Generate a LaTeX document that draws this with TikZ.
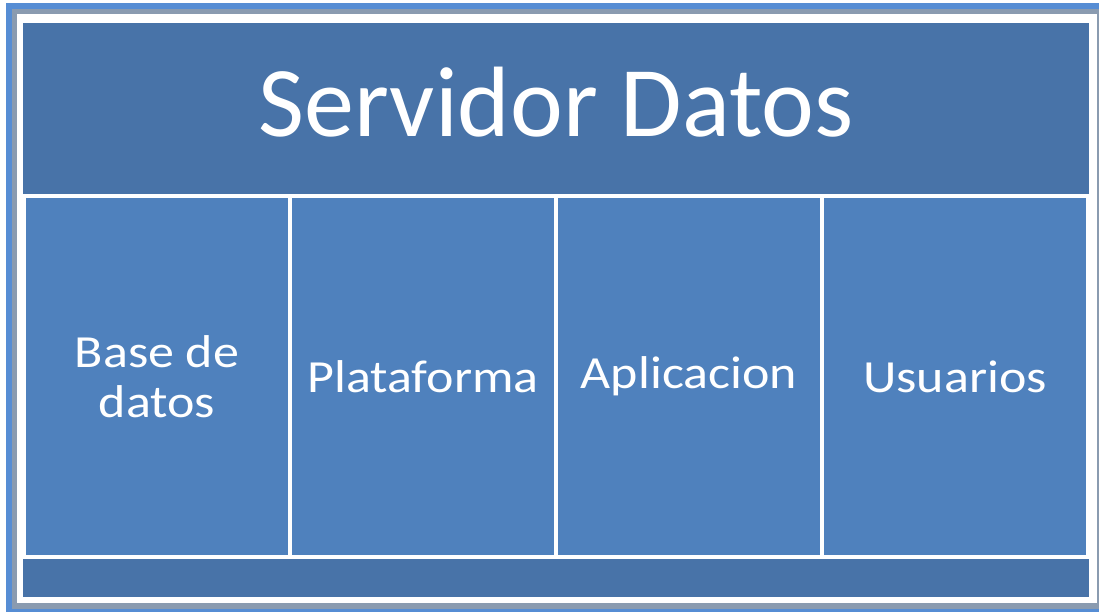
\documentclass[tikz,border=0pt]{standalone}
\usepackage{fontspec}
\setmainfont{Carlito}
\newfontfamily\cellfont[FakeStretch=1.13]{Carlito}
\usepackage{tikz}
\usetikzlibrary{positioning}

\definecolor{frameblue}{RGB}{86,141,212}
\definecolor{framegrey}{RGB}{138,155,176}
\definecolor{headblue}{RGB}{72,115,168}
\definecolor{cellblue}{RGB}{79,129,189}

\begin{document}
\begin{tikzpicture}[x=1pt,y=-1pt,node distance=0pt,
 bar node/.style={rectangle,fill=headblue,inner sep=0pt,outer sep=0pt,
   minimum width=1066pt,anchor=north west,text=white},
 cell node/.style={rectangle,draw=white,line width=4pt,fill=cellblue,
   inner sep=0pt,outer sep=0pt,minimum width=266pt,minimum height=361pt,
   text=white,align=center,font=\cellfont\fontsize{46}{50}\selectfont}]
  \useasboundingbox (0,0) rectangle (1099,612);
  % frame
  \fill[frameblue] (6,3) rectangle (1120,630);
  \fill[framegrey] (12,9) rectangle (1120,609);
  \fill[white] (17,14) rectangle (1097,603);

  \node[bar node,minimum height=171pt,text depth=14pt,
    font=\fontsize{100}{120}\selectfont] (head) at (23,23) {Servidor Datos};
  \node[bar node,minimum height=39pt] (foot) at (23,558) {};

  \node[cell node,anchor=north west] (base) at (24,196) {Base de\\datos};
  \node[cell node] (plat) [right=of base] {Plataforma};
  \node[cell node] (apl) [right=of plat] {Aplicacion};
  \node[cell node] (usu) [right=of apl] {Usuarios};
\end{tikzpicture}
\end{document}
